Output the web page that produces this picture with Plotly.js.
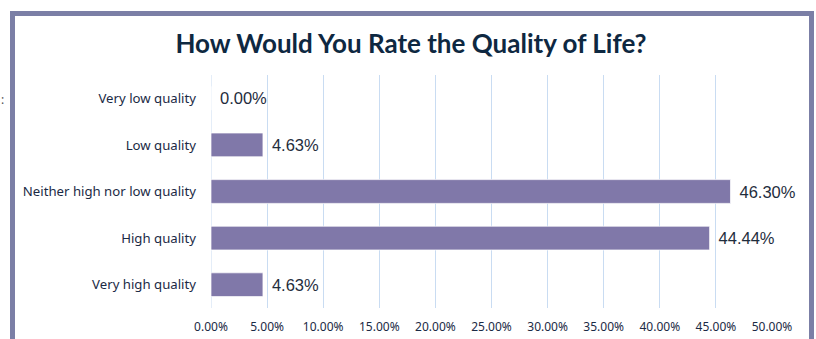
<!DOCTYPE html>
<html>
<head>
<meta charset="utf-8">
<script src="https://cdn.plot.ly/plotly-3.0.1.min.js"></script>
<style>
html,body{margin:0;padding:0;background:#fff;}
#wrap{position:relative;width:816px;height:339px;overflow:hidden;}
#chart{position:absolute;left:0;top:0;width:816px;height:339px;}
#frame{position:absolute;left:10px;top:11px;width:794px;height:400px;border:5px solid #7b7fa6;pointer-events:none;box-sizing:content-box;}
</style>
</head>
<body>
<div id="wrap">
<div id="chart"></div>
<div id="frame"></div>
</div>
<script>
const categories = ["Very low quality","Low quality","Neither high nor low quality","High quality","Very high quality"];
const values = [0.00, 4.63, 46.30, 44.44, 4.63];
const tickValues = [0,5,10,15,20,25,30,35,40,45,50];
const tickLabels = ["0.00%","5.00%","10.00%","15.00%","20.00%","25.00%","30.00%","35.00%","40.00%","45.00%","50.00%"];
const chartTitle = "How Would You Rate the Quality of Life?";

const trace = {
  type: 'bar',
  orientation: 'h',
  x: values,
  y: categories,
  text: values.map(v => '\u00a0\u200a' + v.toFixed(2) + '%'),
  textposition: 'outside',
  cliponaxis: false,
  textfont: {family: 'Liberation Sans, Arial, sans-serif', size: 16.5, color: '#1f2d3d'},
  marker: {color: '#8078a9', line: {color: 'rgba(255,255,255,0.7)', width: 1}},
  hoverinfo: 'none'
};

const layout = {
  width: 816, height: 339,
  margin: {l: 211, r: 44, t: 75, b: 31},
  paper_bgcolor: '#ffffff',
  plot_bgcolor: '#ffffff',
  showlegend: false,
  bargap: 0.49,
  title: {
    text: '<b>' + chartTitle + '</b>',
    font: {family: 'Lato, sans-serif', size: 26, color: '#0e2841'},
    x: 411 / 816, xref: 'container', xanchor: 'center',
    y: 1 - 44 / 339, yref: 'container', yanchor: 'middle'
  },
  xaxis: {
    range: [0, 50],
    tickvals: tickValues,
    ticktext: tickLabels,
    showgrid: true,
    gridcolor: '#c9dcf2',
    gridwidth: 1,
    zeroline: false,
    showline: false,
    ticks: '',
    ticklabelstandoff: 10,
    tickfont: {family: 'Noto Sans, sans-serif', size: 12, color: '#1b2a45'},
    fixedrange: true
  },
  yaxis: {
    type: 'category',
    autorange: 'reversed',
    showgrid: false,
    zeroline: false,
    showline: false,
    ticks: '',
    ticklabelstandoff: 14,
    tickfont: {family: 'Noto Sans, sans-serif', size: 13.2, color: '#1b2a45'},
    fixedrange: true
  },
  shapes: [{
    type: 'line', xref: 'x', yref: 'paper', x0: 0, x1: 0, y0: 0, y1: 1,
    line: {color: '#c9dcf2', width: 1}, layer: 'below'
  }],
  annotations: [{
    text: ':', xref: 'paper', yref: 'paper', x: (-1 - 211) / 561, y: 1 - (100 - 75) / 233,
    xanchor: 'left', yanchor: 'middle', showarrow: false,
    font: {family: 'Noto Sans, sans-serif', size: 12, color: '#555'}
  }]
};

Plotly.newPlot('chart', [trace], layout, {displayModeBar: false, staticPlot: true});
</script>
</body>
</html>
